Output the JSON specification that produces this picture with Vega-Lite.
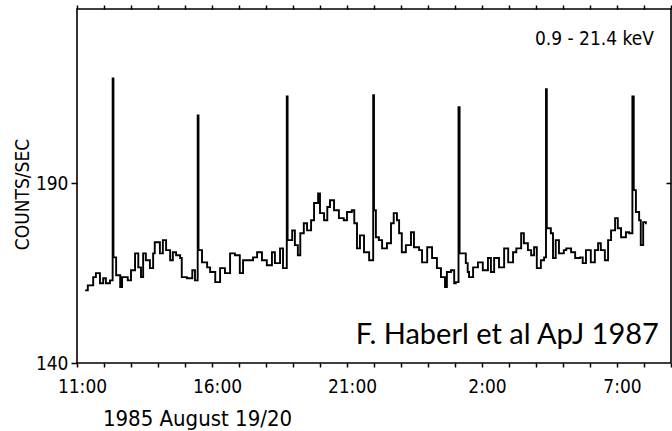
{
  "$schema": "https://vega.github.io/schema/vega-lite/v6.json",
  "width": 594,
  "height": 354,
  "autosize": "none",
  "padding": {"left": 77, "top": 9, "right": 1, "bottom": 68},
  "background": "white",
  "config": {
    "view": {"stroke": "black", "strokeWidth": 1.6},
    "axis": {
      "labelFont": "DejaVu Sans Condensed, Liberation Sans Narrow, sans-serif",
      "titleFont": "DejaVu Sans Condensed, Liberation Sans Narrow, sans-serif",
      "labelColor": "black",
      "titleColor": "black",
      "tickColor": "black",
      "domain": false,
      "grid": false,
      "titleFontWeight": "normal"
    }
  },
  "datasets": {
    "lc": [
      {"hour": 0.30, "c": 160.2}, {"hour": 0.40, "c": 161.6}, {"hour": 0.60, "c": 163.9}, {"hour": 0.70, "c": 165.0},
      {"hour": 0.85, "c": 162.2}, {"hour": 0.97, "c": 163.6}, {"hour": 1.07, "c": 162.2}, {"hour": 1.22, "c": 163.0},
      {"hour": 1.32, "c": 219.2}, {"hour": 1.35, "c": 169.4}, {"hour": 1.45, "c": 164.4}, {"hour": 1.60, "c": 161.1},
      {"hour": 1.67, "c": 163.9}, {"hour": 1.88, "c": 163.0}, {"hour": 2.00, "c": 165.8}, {"hour": 2.15, "c": 170.5},
      {"hour": 2.27, "c": 166.6}, {"hour": 2.37, "c": 163.9}, {"hour": 2.45, "c": 170.5}, {"hour": 2.55, "c": 168.6},
      {"hour": 2.70, "c": 166.4}, {"hour": 2.82, "c": 170.5}, {"hour": 2.88, "c": 173.6}, {"hour": 3.07, "c": 170.5},
      {"hour": 3.18, "c": 174.2}, {"hour": 3.30, "c": 171.4}, {"hour": 3.45, "c": 168.6}, {"hour": 3.55, "c": 170.8},
      {"hour": 3.67, "c": 170.0}, {"hour": 3.82, "c": 169.2}, {"hour": 3.88, "c": 163.9}, {"hour": 4.07, "c": 163.6},
      {"hour": 4.27, "c": 165.8}, {"hour": 4.37, "c": 163.0}, {"hour": 4.47, "c": 208.9}, {"hour": 4.50, "c": 171.4},
      {"hour": 4.63, "c": 168.0}, {"hour": 4.82, "c": 166.6}, {"hour": 4.93, "c": 165.3}, {"hour": 5.12, "c": 162.5},
      {"hour": 5.30, "c": 166.4}, {"hour": 5.48, "c": 165.0}, {"hour": 5.67, "c": 170.5}, {"hour": 5.85, "c": 170.0},
      {"hour": 6.03, "c": 165.0}, {"hour": 6.15, "c": 168.6}, {"hour": 6.52, "c": 169.4}, {"hour": 6.67, "c": 170.8},
      {"hour": 6.85, "c": 168.6}, {"hour": 7.03, "c": 167.2}, {"hour": 7.22, "c": 170.8}, {"hour": 7.33, "c": 167.8},
      {"hour": 7.52, "c": 171.9}, {"hour": 7.63, "c": 166.4}, {"hour": 7.77, "c": 214.2}, {"hour": 7.80, "c": 174.2},
      {"hour": 7.97, "c": 176.9}, {"hour": 8.07, "c": 172.8}, {"hour": 8.18, "c": 170.0}, {"hour": 8.27, "c": 176.1},
      {"hour": 8.40, "c": 178.9}, {"hour": 8.52, "c": 176.9}, {"hour": 8.67, "c": 179.7}, {"hour": 8.78, "c": 184.5},
      {"hour": 8.93, "c": 187.2}, {"hour": 9.00, "c": 181.7}, {"hour": 9.15, "c": 179.7}, {"hour": 9.27, "c": 183.4},
      {"hour": 9.37, "c": 185.3}, {"hour": 9.52, "c": 182.5}, {"hour": 9.70, "c": 180.3}, {"hour": 9.88, "c": 179.7},
      {"hour": 10.00, "c": 182.0}, {"hour": 10.18, "c": 182.5}, {"hour": 10.27, "c": 178.9}, {"hour": 10.37, "c": 171.9},
      {"hour": 10.48, "c": 175.5}, {"hour": 10.63, "c": 170.8}, {"hour": 10.82, "c": 168.6}, {"hour": 10.97, "c": 214.5},
      {"hour": 11.00, "c": 182.5}, {"hour": 11.07, "c": 175.0}, {"hour": 11.18, "c": 174.2}, {"hour": 11.30, "c": 171.9},
      {"hour": 11.48, "c": 173.3}, {"hour": 11.63, "c": 178.9}, {"hour": 11.73, "c": 181.7}, {"hour": 11.85, "c": 179.7},
      {"hour": 11.93, "c": 176.1}, {"hour": 12.03, "c": 170.8}, {"hour": 12.18, "c": 172.8}, {"hour": 12.37, "c": 176.4},
      {"hour": 12.48, "c": 172.2}, {"hour": 12.67, "c": 171.4}, {"hour": 12.78, "c": 168.0}, {"hour": 12.97, "c": 172.2},
      {"hour": 13.15, "c": 169.2}, {"hour": 13.33, "c": 166.4}, {"hour": 13.48, "c": 163.9}, {"hour": 13.63, "c": 161.1},
      {"hour": 13.70, "c": 165.3}, {"hour": 13.85, "c": 165.8}, {"hour": 13.97, "c": 162.2}, {"hour": 14.03, "c": 162.5},
      {"hour": 14.13, "c": 211.2}, {"hour": 14.17, "c": 170.5}, {"hour": 14.40, "c": 167.8}, {"hour": 14.47, "c": 165.3},
      {"hour": 14.52, "c": 163.9}, {"hour": 14.67, "c": 166.6}, {"hour": 14.85, "c": 168.0}, {"hour": 15.03, "c": 165.8},
      {"hour": 15.22, "c": 169.2}, {"hour": 15.33, "c": 165.3}, {"hour": 15.45, "c": 169.2}, {"hour": 15.63, "c": 166.6},
      {"hour": 15.82, "c": 171.9}, {"hour": 15.97, "c": 168.0}, {"hour": 16.15, "c": 170.8}, {"hour": 16.27, "c": 171.9},
      {"hour": 16.45, "c": 176.1}, {"hour": 16.55, "c": 173.3}, {"hour": 16.70, "c": 171.4}, {"hour": 16.82, "c": 170.0},
      {"hour": 16.93, "c": 172.2}, {"hour": 17.03, "c": 166.4}, {"hour": 17.18, "c": 168.6}, {"hour": 17.30, "c": 169.4},
      {"hour": 17.37, "c": 216.2}, {"hour": 17.40, "c": 177.5}, {"hour": 17.55, "c": 176.1}, {"hour": 17.63, "c": 169.2},
      {"hour": 17.73, "c": 174.2}, {"hour": 17.85, "c": 170.5}, {"hour": 18.03, "c": 171.4}, {"hour": 18.12, "c": 171.9},
      {"hour": 18.30, "c": 170.8}, {"hour": 18.45, "c": 169.2}, {"hour": 18.63, "c": 169.4}, {"hour": 18.73, "c": 167.8},
      {"hour": 18.85, "c": 171.4}, {"hour": 19.03, "c": 168.0}, {"hour": 19.18, "c": 171.4}, {"hour": 19.30, "c": 173.3},
      {"hour": 19.40, "c": 171.4}, {"hour": 19.55, "c": 168.6}, {"hour": 19.67, "c": 174.2}, {"hour": 19.78, "c": 176.9},
      {"hour": 19.93, "c": 180.3}, {"hour": 20.03, "c": 177.5}, {"hour": 20.15, "c": 175.0}, {"hour": 20.33, "c": 176.4},
      {"hour": 20.45, "c": 176.1}, {"hour": 20.57, "c": 214.2}, {"hour": 20.62, "c": 188.1}, {"hour": 20.70, "c": 182.0},
      {"hour": 20.82, "c": 179.7}, {"hour": 20.88, "c": 172.8}, {"hour": 20.97, "c": 179.2}, {"hour": 21.07, "c": 178.9},
      {"hour": 21.10, "c": 178.9}
    ],
    "band": [{"hour": 21.37, "c": 228.4, "label": "0.9 - 21.4 keV"}],
    "credit": [{"hour": 21.55, "c": 145.2, "label": "F. Haberl et al ApJ 1987"}]
  },
  "resolve": {"axis": {"x": "independent", "y": "independent"}},
  "layer": [
    {
      "data": {"name": "lc"},
      "mark": {"type": "line", "interpolate": "step-after", "color": "black", "strokeWidth": 1.9, "clip": true},
      "encoding": {
        "x": {
          "field": "hour", "type": "quantitative",
          "scale": {"domain": [0, 22], "nice": false, "zero": false},
          "axis": {
            "orient": "bottom",
            "values": [0,1,2,3,4,5,6,7,8,9,10,11,12,13,14,15,16,17,18,19,20,21,22],
            "labelExpr": "datum.value % 5 == 0 ? ((11 + datum.value) % 24) + ':00' : ''",
            "labelOverlap": false,
            "labelFlush": false,
            "labelOffset": 5,
            "labelFontSize": 19,
            "labelPadding": 10,
            "tickSize": 4,
            "tickWidth": 1.5,
            "title": "1985 August 19/20",
            "titleFontSize": 22,
            "titleAlign": "center",
            "titleBaseline": "alphabetic",
            "titleX": 120,
            "titleY": 62
          }
        },
        "y": {
          "field": "c", "type": "quantitative",
          "scale": {"domain": [140, 238.5], "nice": false, "zero": false},
          "axis": {
            "orient": "left",
            "values": [140, 190],
            "labelFontSize": 19,
            "labelPadding": 3,
            "tickSize": 6,
            "tickWidth": 1.5,
            "title": "COUNTS/SEC",
            "titleFontSize": 19,
            "titleAngle": -90,
            "titleAlign": "center",
            "titleBaseline": "alphabetic",
            "titleX": -49,
            "titleY": 185
          }
        }
      }
    },
    {
      "data": {"name": "band"},
      "mark": {"type": "text", "align": "right", "baseline": "alphabetic", "font": "DejaVu Sans Condensed, Liberation Sans Narrow, sans-serif", "fontSize": 19, "color": "black"},
      "encoding": {
        "x": {
          "field": "hour", "type": "quantitative",
          "axis": {"orient": "top", "values": [0,1,2,3,4,5,6,7,8,9,10,11,12,13,14,15,16,17,18,19,20,21,22], "labels": false, "tickSize": 4, "tickWidth": 1.5, "title": null}
        },
        "y": {
          "field": "c", "type": "quantitative",
          "axis": {"orient": "right", "values": [190], "labels": false, "tickSize": -5, "tickWidth": 1.5, "title": null}
        },
        "text": {"field": "label"}
      }
    },
    {
      "data": {"name": "credit"},
      "mark": {"type": "text", "align": "right", "baseline": "alphabetic", "font": "Lato", "fontSize": 29, "color": "black"},
      "encoding": {
        "x": {"field": "hour", "type": "quantitative", "axis": null},
        "y": {"field": "c", "type": "quantitative", "axis": null},
        "text": {"field": "label"}
      }
    }
  ]
}
